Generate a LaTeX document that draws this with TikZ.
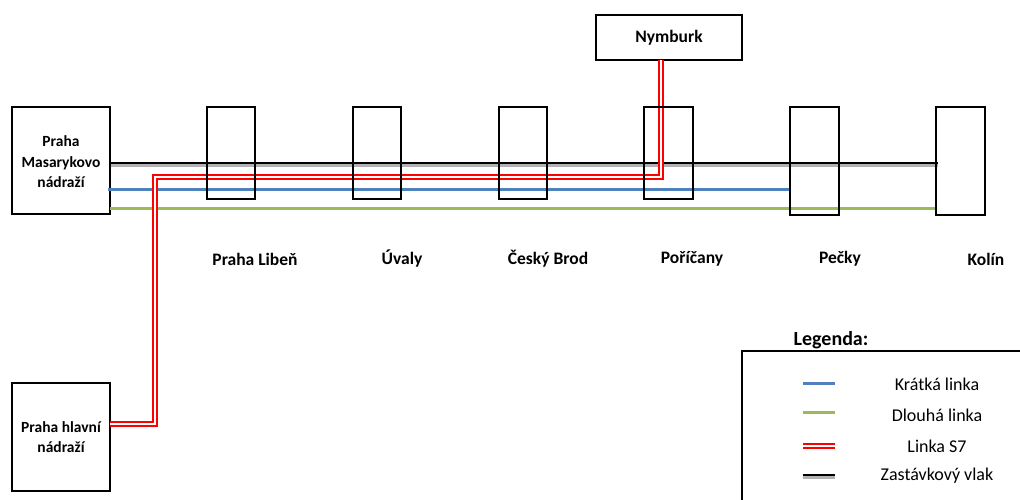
\documentclass[tikz,border=0pt]{standalone}
\usepackage{fontspec}
\setmainfont{Carlito}
\begin{document}
\begin{tikzpicture}[x=1pt,y=-1pt,
  stbox/.style={draw=black,line width=2.2pt,fill=white},
  frame/.style={draw=black,line width=2.2pt},
  lbl/.style={font=\bfseries\fontsize{17.5}{21}\selectfont,align=center},
  boxlbl/.style={font=\bfseries\fontsize{15.5}{20.5}\selectfont,align=center},
  leg/.style={font=\fontsize{18}{21}\selectfont},
  blueline/.style={draw={rgb,255:red,79;green,129;blue,189},line width=3pt},
  greenline/.style={draw={rgb,255:red,155;green,187;blue,89},line width=3pt},
  blackline/.style={draw=black,line width=2.4pt},
  shadowline/.style={draw=black!30,line width=2.4pt},
  redline/.style={draw=red,line width=6pt},
  redinner/.style={draw=white,line width=2.6pt}]
\useasboundingbox (0,0) rectangle (1020,499);
% station boxes
\draw[stbox] (12,107) rectangle (110,214);
\node[boxlbl] (masaryk) at (61,162) {Praha\\Masarykovo\\nádraží};
\draw[stbox] (12,383) rectangle (110,491);
\node[boxlbl] (hlavni) at (61,437) {Praha hlavní\\nádraží};
\draw[stbox] (596,15) rectangle (742,60);
\node[lbl] (nymburk) at (669,38) {Nymburk};
\coordinate (hlR) at (110,424);
\coordinate (nymB) at (661,60);
% lines
\draw[shadowline] (111,165.5) -- (938,165.5);
\draw[blackline] (110,163) -- (938,163);
\draw[blueline] (108,189) -- (790,189);
\draw[greenline] (110,208) -- (936,208);
\draw[redline,line join=miter] (hlR) -- (155,424) -- (155,177) -- (661,177) -- (nymB);
\draw[redinner,line join=miter] (hlR) -- (155,424) -- (155,177) -- (661,177) -- (nymB);
% intermediate station boxes (outlines only)
\draw[frame] (207,107) rectangle (255,199);
\draw[frame] (353,107) rectangle (401,199);
\draw[frame] (499,107) rectangle (547,199);
\draw[frame] (644,107) rectangle (693,199);
\draw[frame] (790,107) rectangle (839,215);
\draw[frame] (936,107) rectangle (985,215);
% station labels
\node[lbl] (liben) at (255,259) {Praha Libeň};
\node[lbl] (uvaly) at (402,259) {Úvaly};
\node[lbl] (brod) at (548,259) {Český Brod};
\node[lbl] (poricany) at (692,259) {Poříčany};
\node[lbl] (pecky) at (840,259) {Pečky};
\node[lbl] (kolin) at (986,259) {Kolín};
% legend
\node[font=\bfseries\fontsize{20}{24}\selectfont] (legenda) at (831,340) {Legenda:};
\draw[frame] (742,520) -- (742,351) -- (1030,351);
\draw[blueline] (803,383) -- (835,383);
\draw[greenline] (803,412) -- (835,412);
\draw[redline] (803,446) -- (835,446);
\draw[redinner] (803,446) -- (835,446);
\draw[shadowline] (803,477.5) -- (835,477.5);
\draw[blackline] (803,475) -- (835,475);
\node[leg] (k1) at (937,384) {Krátká linka};
\node[leg] (k2) at (937,415) {Dlouhá linka};
\node[leg] (k3) at (937,446) {Linka S7};
\node[leg] (k4) at (937,476) {Zastávkový vlak};
\end{tikzpicture}
\end{document}
